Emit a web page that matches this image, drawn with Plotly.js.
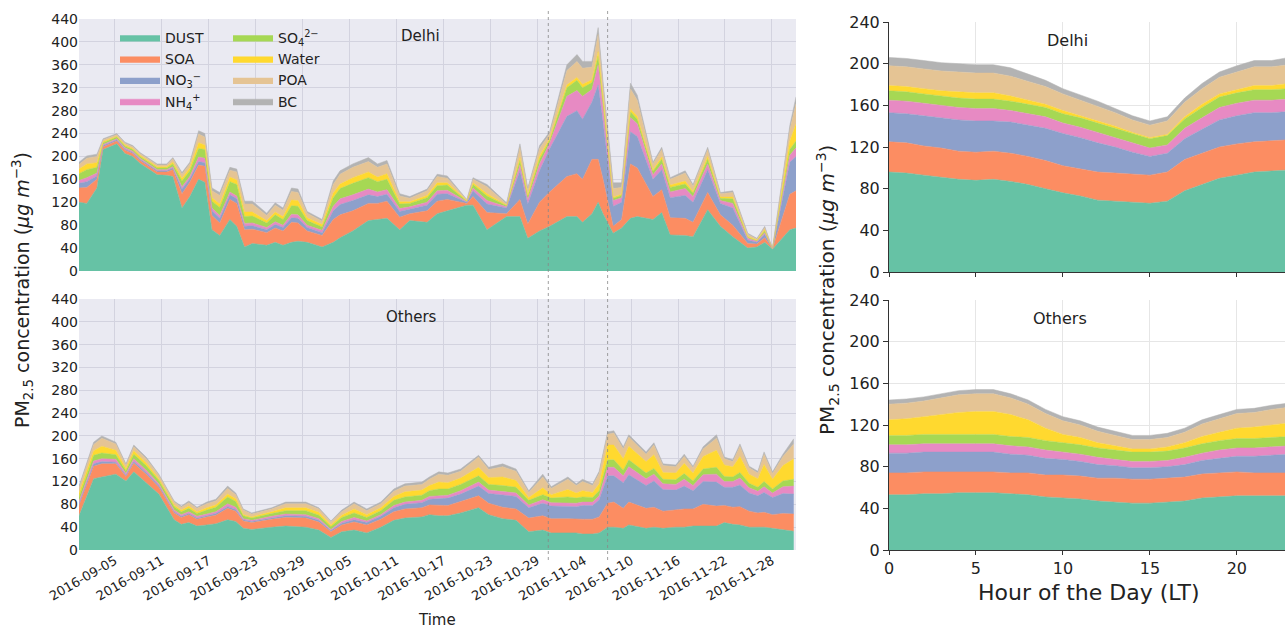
<!DOCTYPE html>
<html><head><meta charset="utf-8">
<script src="https://cdn.plot.ly/plotly-3.0.1.min.js"></script>
<style>html,body{margin:0;padding:0;overflow:hidden;background:#fff}</style>
</head><body><div id="chart" style="width:1292px;height:634px"></div>
<script>
const componentNames = ['DUST','SOA','NO<sub>3</sub><sup>−</sup>','NH<sub>4</sub><sup>+</sup>','SO<sub>4</sub><sup>2−</sup>','Water','POA','BC'];
const componentColors = ['#66c2a5','#fc8d62','#8da0cb','#e78ac3','#a6d854','#ffd92f','#e5c494','#b3b3b3'];

// Delhi daily time series
const delhiDates = ['2016-08-31 10:00','2016-09-01 10:00','2016-09-02 17:00','2016-09-03 12:00','2016-09-05 06:00','2016-09-06 07:00','2016-09-07 07:00','2016-09-08 05:00','2016-09-10 10:00','2016-09-11 15:00','2016-09-12 10:00','2016-09-13 14:00','2016-09-14 14:00','2016-09-15 17:00','2016-09-16 12:00','2016-09-17 10:00','2016-09-18 10:00','2016-09-19 17:00','2016-09-20 14:00','2016-09-21 14:00','2016-09-22 14:00','2016-09-24 10:00','2016-09-25 12:00','2016-09-26 12:00','2016-09-27 14:00','2016-09-28 10:00','2016-09-29 14:00','2016-10-01 12:00','2016-10-02 22:00','2016-10-03 19:00','2016-10-05 10:00','2016-10-07 10:00','2016-10-08 14:00','2016-10-09 19:00','2016-10-11 10:00','2016-10-12 17:00','2016-10-14 22:00','2016-10-16 05:00','2016-10-17 12:00','2016-10-20 00:00','2016-10-20 19:00','2016-10-22 14:00','2016-10-25 02:00','2016-10-26 19:00','2016-10-27 19:00','2016-10-29 07:00','2016-10-30 14:00','2016-11-01 19:00','2016-11-03 02:00','2016-11-03 19:00','2016-11-05 00:00','2016-11-05 19:00','2016-11-06 10:00','2016-11-07 17:00','2016-11-08 19:00','2016-11-09 22:00','2016-11-10 19:00','2016-11-12 19:00','2016-11-13 22:00','2016-11-15 00:00','2016-11-16 22:00','2016-11-17 22:00','2016-11-19 19:00','2016-11-21 10:00','2016-11-23 00:00','2016-11-24 22:00','2016-11-26 02:00','2016-11-27 02:00','2016-11-28 02:00','2016-11-30 07:00','2016-12-01 02:00'];
const delhiDust  = [120,118,145,212,222,205,200,188,168,167,165,110,130,160,155,72,62,90,78,42,48,45,50,45,50,52,50,42,50,58,70,88,90,92,72,88,85,100,105,115,115,72,95,95,57,70,78,95,95,85,100,120,100,66,75,92,95,90,102,63,62,60,107,78,60,40,42,50,38,72,75];
const delhiSoa   = [25,28,15,5,5,6,5,5,5,6,12,25,25,25,28,25,22,35,40,30,25,22,25,25,35,32,20,20,40,40,35,30,28,30,22,12,20,22,20,3,15,30,5,30,25,50,60,70,75,75,95,75,60,12,15,95,85,40,40,30,30,25,30,20,20,8,5,8,1,62,65];
const delhiNo3   = [8,10,6,2,2,2,2,2,2,2,3,8,6,6,6,8,8,8,8,6,6,5,6,6,8,8,6,5,15,18,18,15,12,12,10,8,10,12,10,2,10,15,10,50,35,55,75,105,110,105,100,130,100,35,30,56,55,30,35,35,40,35,40,20,30,6,3,6,0,56,60];
const delhiNh4   = [5,7,5,2,2,2,2,2,2,2,2,4,4,8,8,5,5,5,5,5,5,4,5,4,6,6,4,4,8,10,10,10,8,8,5,4,5,6,6,1,5,6,2,10,8,12,10,35,35,40,22,35,25,10,8,25,22,8,10,10,12,10,10,5,8,3,2,3,0,12,15];
const delhiSo4   = [12,14,10,3,3,3,3,3,3,3,5,10,10,15,15,12,14,18,20,12,12,8,12,10,15,15,8,6,15,18,20,20,18,18,8,6,8,9,9,1,6,8,2,8,5,8,5,15,18,15,12,15,12,4,4,10,8,6,8,8,8,6,8,4,8,2,1,3,0,10,12];
const delhiWater = [8,10,8,2,1,2,2,2,2,2,3,5,5,10,8,6,6,8,8,8,7,4,5,5,10,10,5,4,8,8,10,10,8,10,4,3,4,5,4,1,3,4,1,5,3,6,3,5,5,6,5,8,6,2,2,5,5,3,4,4,5,3,5,2,3,1,1,2,0,15,30];
const delhiPoa   = [8,10,11,3,3,3,3,3,3,3,6,7,7,15,14,12,15,12,14,14,14,9,12,11,15,14,8,6,15,17,18,18,17,17,10,6,8,11,8,1,6,12,2,18,9,13,8,25,28,28,22,30,20,15,12,35,28,10,13,10,14,9,12,6,8,4,2,4,0,20,35];
const delhiBc    = [4,4,4,2,2,2,2,2,2,2,2,3,3,6,6,5,5,5,5,5,5,4,4,4,6,6,3,3,6,6,6,7,6,6,4,3,3,4,4,1,3,4,2,6,3,5,4,10,12,12,10,12,8,10,8,10,9,3,4,3,4,3,4,2,3,2,1,2,0,7,12];

// Others daily time series
const otherDates = ['2016-08-31 10:00','2016-09-02 07:00','2016-09-03 08:00','2016-09-05 03:00','2016-09-06 10:00','2016-09-07 10:00','2016-09-09 00:00','2016-09-10 15:00','2016-09-12 14:00','2016-09-13 12:00','2016-09-14 11:00','2016-09-15 12:00','2016-09-16 18:00','2016-09-17 22:00','2016-09-19 10:00','2016-09-20 11:00','2016-09-21 10:00','2016-09-22 12:00','2016-09-25 01:00','2016-09-26 20:00','2016-09-29 10:00','2016-10-01 02:00','2016-10-02 15:00','2016-10-04 00:00','2016-10-05 14:00','2016-10-07 05:00','2016-10-09 00:00','2016-10-10 16:00','2016-10-12 02:00','2016-10-14 06:00','2016-10-15 05:00','2016-10-16 10:00','2016-10-17 14:00','2016-10-19 05:00','2016-10-21 12:00','2016-10-22 19:00','2016-10-24 14:00','2016-10-26 07:00','2016-10-27 22:00','2016-10-29 17:00','2016-10-30 19:00','2016-11-01 22:00','2016-11-03 00:00','2016-11-03 19:00','2016-11-05 02:00','2016-11-05 22:00','2016-11-07 00:00','2016-11-07 19:00','2016-11-09 00:00','2016-11-09 17:00','2016-11-11 22:00','2016-11-12 22:00','2016-11-14 02:00','2016-11-15 17:00','2016-11-16 19:00','2016-11-17 22:00','2016-11-19 05:00','2016-11-20 22:00','2016-11-21 22:00','2016-11-23 00:00','2016-11-23 22:00','2016-11-25 02:00','2016-11-26 05:00','2016-11-27 00:00','2016-11-28 02:00','2016-11-29 10:00','2016-11-30 19:00'];
const otherDust  = [60,125,128,133,121,137,118,98,53,45,48,42,44,46,53,50,38,36,40,42,40,35,22,32,35,30,40,52,56,58,62,60,60,65,74,62,55,52,32,35,30,30,30,28,28,30,40,40,38,44,38,40,38,40,40,42,42,42,48,45,44,40,40,40,38,36,33];
const otherSoa   = [18,22,23,18,8,15,15,12,12,12,14,12,14,15,20,18,13,12,14,15,16,14,10,12,14,14,14,15,16,16,17,18,18,20,21,20,20,20,24,25,25,25,24,26,26,28,42,44,35,40,35,35,30,30,32,30,38,35,30,30,32,28,25,26,24,28,30];
const otherNo3   = [3,4,4,3,2,3,3,3,2,2,2,2,2,3,3,3,2,2,2,3,3,3,2,3,4,4,5,7,8,9,10,12,13,13,17,17,22,22,18,22,22,22,22,24,24,30,48,46,45,48,40,46,38,35,40,32,40,42,32,35,38,32,30,35,30,35,35];
const otherNh4   = [4,5,5,5,3,5,4,3,3,3,3,3,3,3,5,4,2,2,3,3,3,3,2,3,4,3,3,4,4,4,5,5,5,6,7,6,6,6,5,6,6,6,6,6,6,7,15,15,12,14,12,12,10,10,12,9,12,14,10,10,12,9,8,10,8,12,14];
const otherSo4   = [8,10,10,8,5,8,8,6,6,5,6,5,7,8,12,10,5,4,5,6,7,6,5,7,8,6,7,9,9,9,10,12,11,11,11,10,10,10,8,9,8,10,9,9,8,9,13,13,10,12,10,10,8,8,10,8,10,12,9,8,10,8,7,9,7,10,12];
const otherWater = [7,8,12,8,4,6,5,3,3,3,4,3,4,4,5,5,2,2,3,5,5,5,3,4,7,5,5,7,9,9,9,12,11,11,15,12,15,12,5,12,6,13,9,11,9,12,26,26,20,24,20,24,12,12,18,14,22,30,20,18,28,16,15,30,17,27,36];
const otherPoa   = [9,11,14,11,6,7,7,6,5,5,6,6,7,7,10,7,8,5,5,7,7,6,5,6,9,7,7,9,10,10,11,14,13,12,18,14,18,16,9,19,11,18,13,16,12,18,19,21,17,16,13,17,12,11,12,9,13,21,11,9,18,11,10,18,10,16,26];
const otherBc    = [3,4,4,3,2,3,3,2,2,2,3,2,3,3,4,3,2,2,2,3,3,2,2,3,3,3,3,4,4,4,4,4,4,4,3,4,5,4,3,5,3,4,3,4,3,4,4,4,4,4,4,4,3,3,4,3,4,6,3,3,4,3,3,4,3,4,9];

// Diurnal cycle
const hours = [0,1,2,3,4,5,6,7,8,9,10,11,12,13,14,15,16,17,18,19,20,21,22,23];
const delhiHrDust  = [96,95,93,91,89,88,89,87,84,80,76,73,69,68,67,66,68,78,84,90,93,96,97,98];
const delhiHrSoa   = [29,29,28,28,27,27,27,27,27,27,26,26,27,27,27,27,28,30,30,30,30,29,29,29];
const delhiHrNo3   = [28,28,29,29,30,30,29,30,30,31,31,30,28,25,21,18,18,20,23,26,27,28,27,27];
const delhiHrNh4   = [12,12,12,12,12,12,12,11,11,11,10,10,10,9,9,8,8,10,11,12,12,12,12,12];
const delhiHrSo4   = [9,9,9,9,9,9,9,9,9,9,9,9,9,9,9,9,9,9,10,10,10,10,10,10];
const delhiHrWater = [5,5,5,5,6,6,6,5,4,3,3,2,2,2,1,1,1,2,3,3,3,4,4,5];
const delhiHrPoa   = [19,19,19,19,19,19,19,19,18,17,16,15,14,13,12,12,13,14,15,16,17,18,18,18];
const delhiHrBc    = [8,8,8,8,8,8,8,8,7,6,5,5,5,4,4,4,4,4,5,5,6,6,6,7];
const otherHrDust  = [53,53,54,54,55,55,55,54,53,51,50,49,47,46,45,45,46,47,50,51,52,52,52,52];
const otherHrSoa   = [21,21,21,21,20,20,20,20,21,21,22,22,22,23,23,23,23,23,23,23,23,22,22,22];
const otherHrNo3   = [19,19,19,19,19,19,19,18,17,16,15,14,13,12,11,11,11,12,13,14,15,16,17,18];
const otherHrNh4   = [8,8,8,8,8,8,8,8,8,8,7,7,7,6,6,6,6,7,7,8,8,8,8,8];
const otherHrSo4   = [9,9,9,9,9,9,9,9,9,9,9,9,9,9,9,9,9,9,9,9,9,9,9,9];
const otherHrWater = [15,16,17,19,21,22,22,21,17,12,8,7,5,4,3,3,4,5,7,8,10,11,12,13];
const otherHrPoa   = [15,15,15,16,17,17,17,16,15,14,13,12,11,10,9,9,9,10,12,13,14,14,15,15];
const otherHrBc    = [4,4,4,4,4,4,4,4,4,4,4,4,4,4,4,4,4,4,4,4,4,4,4,4];

const dashDates = ['2016-10-30 10:00','2016-11-07 00:00'];
const yTicksLeft = [0,40,80,120,160,200,240,280,320,360,400,440];
const yTicksRight = [0,40,80,120,160,200,240];

const panels = [
  {x: delhiDates, xa:'x', ya:'y', sg:'d', legend:true, series:[delhiDust,delhiSoa,delhiNo3,delhiNh4,delhiSo4,delhiWater,delhiPoa,delhiBc]},
  {x: otherDates, xa:'x2', ya:'y2', sg:'o', legend:false, series:[otherDust,otherSoa,otherNo3,otherNh4,otherSo4,otherWater,otherPoa,otherBc]},
  {x: hours, xa:'x3', ya:'y3', sg:'dh', legend:false, series:[delhiHrDust,delhiHrSoa,delhiHrNo3,delhiHrNh4,delhiHrSo4,delhiHrWater,delhiHrPoa,delhiHrBc]},
  {x: hours, xa:'x4', ya:'y4', sg:'oh', legend:false, series:[otherHrDust,otherHrSoa,otherHrNo3,otherHrNh4,otherHrSo4,otherHrWater,otherHrPoa,otherHrBc]}
];
const traces = [];
panels.forEach(p => {
  p.series.forEach((vals, i) => {
    traces.push({
      type:'scatter', mode:'lines', x:p.x, y:vals, xaxis:p.xa, yaxis:p.ya,
      stackgroup:p.sg, name:componentNames[i], line:{width:0.5, color:componentColors[i]},
      fillcolor:componentColors[i], showlegend:p.legend, legend: i < 4 ? 'legend' : 'legend2',
      hoverinfo:'skip'
    });
  });
});

const W = 1292, H = 634;
const px = v => v / W, py = v => 1 - v / H;
const F = 'DejaVu Sans, sans-serif';
const leftGrid = '#d3d3df';
const leftX = {domain:[px(79), px(796)], type:'date', range:['2016-08-31 10:00','2016-12-01 02:00'],
  tick0:'2016-09-05', dtick:6*86400000, tickformat:'%Y-%m-%d', showgrid:true, gridcolor:leftGrid,
  zeroline:false, showline:false, ticks:'', tickfont:{family:F, size:13, color:'#222'}};
const leftY = {range:[0,440], tickvals:yTicksLeft, showgrid:true, gridcolor:leftGrid, zeroline:false,
  ticks:'', tickfont:{family:F, size:14, color:'#222'}};
const rightX = {domain:[px(889), px(1289)], range:[0,23], tickvals:[0,5,10,15,20], showgrid:true, gridcolor:'#e6e6e6',
  zeroline:false, showline:true, linecolor:'#333', ticks:'outside', ticklen:4, tickcolor:'#333',
  tickfont:{family:F, size:16, color:'#222'}};
const rightY = {range:[0,240], tickvals:yTicksRight, showgrid:true, gridcolor:'#e6e6e6', zeroline:false,
  showline:true, linecolor:'#333', ticks:'outside', ticklen:5, tickcolor:'#333', tickfont:{family:F, size:16, color:'#222'}};
const legFont = {family:F, size:14, color:'#222'};
const ann = (x, y, text, size, extra) => Object.assign({xref:'paper', yref:'paper', x:px(x), y:py(y), xanchor:'center', yanchor:'middle',
  text:text, showarrow:false, font:{family:F, size:size, color:'#222'}}, extra || {});
const yTitle = 'PM<sub>2.5</sub> concentration (<i>μg m</i><sup>−3</sup>)';

const layout = {
  width:W, height:H, margin:{l:0,r:0,t:0,b:0}, paper_bgcolor:'#fff',
  showlegend:true,
  xaxis: Object.assign({}, leftX, {anchor:'y', showticklabels:false}),
  yaxis: Object.assign({}, leftY, {domain:[py(271), py(19)], anchor:'x'}),
  xaxis2: Object.assign({}, leftX, {anchor:'y2', tickangle:-30}),
  yaxis2: Object.assign({}, leftY, {domain:[py(550), py(299)], anchor:'x2'}),
  xaxis3: Object.assign({}, rightX, {anchor:'y3', showticklabels:false}),
  yaxis3: Object.assign({}, rightY, {domain:[py(272), py(22)], anchor:'x3'}),
  xaxis4: Object.assign({}, rightX, {anchor:'y4'}),
  yaxis4: Object.assign({}, rightY, {domain:[py(550), py(300)], anchor:'x4'}),
  legend:{x:px(115), y:py(22), xanchor:'left', yanchor:'top', traceorder:'normal', bgcolor:'rgba(0,0,0,0)', font:legFont, tracegroupgap:0, itemwidth:40},
  legend2:{x:px(228), y:py(22), xanchor:'left', yanchor:'top', traceorder:'normal', bgcolor:'rgba(0,0,0,0)', font:legFont, tracegroupgap:0, itemwidth:40},
  shapes:[
    {type:'rect', xref:'paper', yref:'paper', x0:px(79), x1:px(796), y0:py(271), y1:py(19), fillcolor:'#eaeaf2', line:{width:0}, layer:'below'},
    {type:'rect', xref:'paper', yref:'paper', x0:px(79), x1:px(796), y0:py(550), y1:py(299), fillcolor:'#eaeaf2', line:{width:0}, layer:'below'}
  ].concat(dashDates.map(d => ({type:'line', xref:'x2', yref:'paper', x0:d, x1:d, y0:py(560), y1:py(8), line:{color:'#888', width:0.8, dash:'dot'}}))),
  annotations:[
    ann(420, 36, 'Delhi', 15),
    ann(411, 317, 'Others', 15),
    ann(1067, 40, 'Delhi', 16),
    ann(1060, 318, 'Others', 16),
    ann(22, 290, yTitle, 19, {textangle:-90}),
    ann(827, 290, yTitle, 20, {textangle:-90}),
    ann(437, 620, 'Time', 15),
    ann(1089, 592, 'Hour of the Day (LT)', 22)
  ]
};
Plotly.newPlot('chart', traces, layout, {displayModeBar:false, staticPlot:true});
</script></body></html>
